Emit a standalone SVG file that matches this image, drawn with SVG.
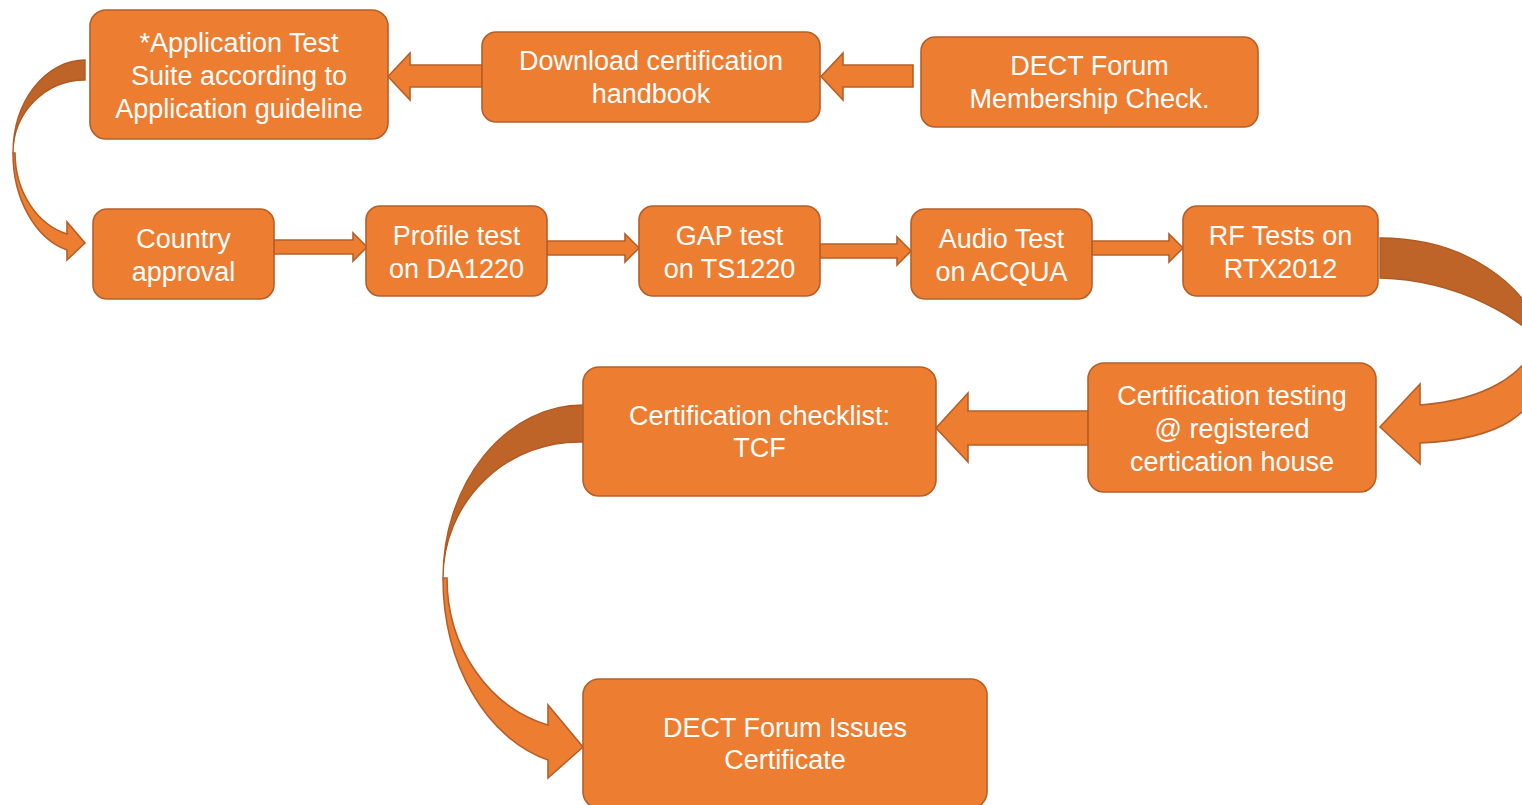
<svg xmlns="http://www.w3.org/2000/svg" width="1522" height="805" viewBox="0 0 1522 805">
<style>
.box{fill:#ED7D31;stroke:#B5602A;stroke-width:1.6}
.arr{fill:#ED7D31;stroke:#B5602A;stroke-width:1.6;stroke-linejoin:miter}
.back{fill:#BE6428;stroke:#B05A22;stroke-width:1.4}
.t{font-family:"Liberation Sans",Arial,sans-serif;font-size:27px;fill:#FFFFFF;text-anchor:middle}
</style>
<rect width="1522" height="805" fill="#FFFFFF"/>
<g id="connectors">
  <path class="arr" d="M913,65 L843,65 L843,53 L821,76.5 L843,100 L843,87 L913,87 Z"/>
  <path class="arr" d="M482,65 L410,65 L410,53 L388,76.5 L410,100 L410,87 L482,87 Z"/>
  <path class="arr" d="M274,240 L353,240 L353,233 L367,247 L353,261 L353,254 L274,254 Z"/>
  <path class="arr" d="M547,241 L625,241 L625,234 L639,248 L625,262 L625,255 L547,255 Z"/>
  <path class="arr" d="M820,244 L897,244 L897,237 L911,251 L897,265 L897,258 L820,258 Z"/>
  <path class="arr" d="M1092,241 L1169,241 L1169,234 L1183,248 L1169,262 L1169,255 L1092,255 Z"/>
  <path class="arr" d="M1088,411 L968,411 L968,393 L936,428 L968,462 L968,445 L1088,445 Z"/>
  <path class="back" d="M85,60 A72,93 0 0 0 13,153 A72,73 0 0 1 85,80 Z"/>
  <path class="arr" d="M13,153 A72,100 0 0 0 67,250 L67,260 L85,243 L67,222 L67,234 A70,84 0 0 1 15,153 Z"/>
  <path class="back" d="M1380,238 C1460,238 1530,280 1548,350 C1525,320 1460,280 1380,278 Z"/>
  <path class="arr" d="M1548,345 C1548,420 1490,440 1420,443 L1420,464 L1380,427 L1420,384 L1420,405 C1485,400 1525,375 1538,340 Z"/>
  <path class="back" d="M583,405 A140,173 0 0 0 443,578 A136,136 0 0 1 583,442 Z"/>
  <path class="arr" d="M443,578 A140,188 0 0 0 548,760 L548,778 L583,747 L548,705 L548,725 A136,152 0 0 1 447,578 Z"/>
</g>
<g id="n1"><rect class="box" x="90" y="10" width="298" height="129" rx="16"/>
<text class="t" x="239" y="52">*Application Test</text><text class="t" x="239" y="85">Suite according to</text><text class="t" x="239" y="118">Application guideline</text></g>
<g id="n2"><rect class="box" x="482" y="32" width="338" height="90" rx="14"/>
<text class="t" x="651" y="70">Download certification</text><text class="t" x="651" y="103">handbook</text></g>
<g id="n3"><rect class="box" x="921" y="37" width="337" height="90" rx="14"/>
<text class="t" x="1089.5" y="75">DECT Forum</text><text class="t" x="1089.5" y="108">Membership Check.</text></g>
<g id="n4"><rect class="box" x="93" y="209" width="181" height="90" rx="14"/>
<text class="t" x="183.5" y="247.5">Country</text><text class="t" x="183.5" y="280.5">approval</text></g>
<g id="n5"><rect class="box" x="366" y="206" width="181" height="90" rx="14"/>
<text class="t" x="456.5" y="244.5">Profile test</text><text class="t" x="456.5" y="277.5">on DA1220</text></g>
<g id="n6"><rect class="box" x="639" y="206" width="181" height="90" rx="14"/>
<text class="t" x="729.5" y="244.5">GAP test</text><text class="t" x="729.5" y="277.5">on TS1220</text></g>
<g id="n7"><rect class="box" x="911" y="209" width="181" height="90" rx="14"/>
<text class="t" x="1001.5" y="247.5">Audio Test</text><text class="t" x="1001.5" y="280.5">on ACQUA</text></g>
<g id="n8"><rect class="box" x="1183" y="206" width="195" height="90" rx="14"/>
<text class="t" x="1280.5" y="244.5">RF Tests on</text><text class="t" x="1280.5" y="277.5">RTX2012</text></g>
<g id="n9"><rect class="box" x="1088" y="363" width="288" height="129" rx="16"/>
<text class="t" x="1232" y="405">Certification testing</text><text class="t" x="1232" y="438">@ registered</text><text class="t" x="1232" y="471">certication house</text></g>
<g id="n10"><rect class="box" x="583" y="367" width="353" height="129" rx="16"/>
<text class="t" x="759.5" y="425">Certification checklist:</text><text class="t" x="759.5" y="457">TCF</text></g>
<g id="n11"><rect class="box" x="583" y="679" width="404" height="129" rx="16"/>
<text class="t" x="785" y="737">DECT Forum Issues</text><text class="t" x="785" y="769">Certificate</text></g>
</svg>
